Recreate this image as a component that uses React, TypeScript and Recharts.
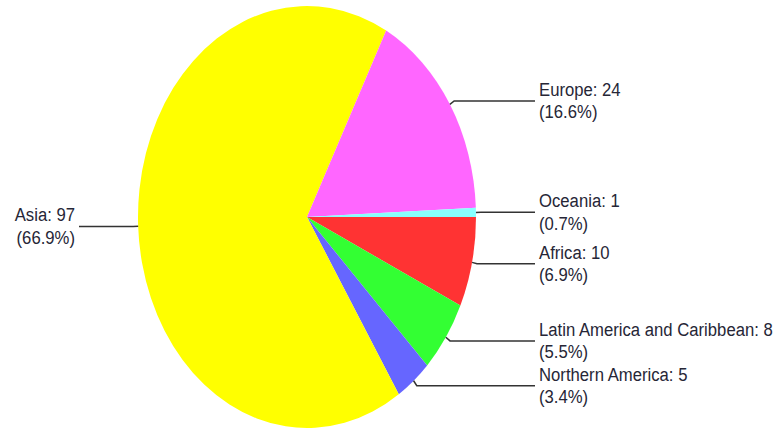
import { Pie, PieChart } from "recharts";

// clockwise from 3 o'clock, as drawn in the reference
const regions = [
  "Africa",
  "Latin America and Caribbean",
  "Northern America",
  "Asia",
  "Europe",
  "Oceania",
];
const counts = [10, 8, 5, 97, 24, 1];
const sliceColors = ["#ff3333", "#33ff33", "#6666ff", "#ffff00", "#ff66ff", "#88ffff"];

const chartData = regions.map((name, i) => ({ name, value: counts[i], fill: sliceColors[i] }));

const WIDTH = 776;
const HEIGHT = 430;
const CX = 307;
const CY = 217;
const RX = 169;
const STRETCH = 211 / 169; // the pie is an upright ellipse
const TEXT_STRETCH = 1.15;
const RAD = Math.PI / 180;

const ellipsePoint = (cx: number, cy: number, rx: number, a: number) => [
  cx + rx * Math.cos(a * RAD),
  cy - rx * STRETCH * Math.sin(a * RAD),
];

const EllipseSector = (props: any) => {
  const { cx, cy, outerRadius, startAngle, endAngle, fill } = props;
  const [x1, y1] = ellipsePoint(cx, cy, outerRadius, startAngle);
  const [x2, y2] = ellipsePoint(cx, cy, outerRadius, endAngle);
  const delta = endAngle - startAngle;
  const large = Math.abs(delta) > 180 ? 1 : 0;
  const sweep = delta < 0 ? 1 : 0;
  const d = `M${cx},${cy} L${x1},${y1} A${outerRadius},${outerRadius * STRETCH} 0 ${large} ${sweep} ${x2},${y2} Z`;
  return <path d={d} fill={fill} stroke="none" />;
};

const renderLabel = (props: any) => {
  const { cx, cy, midAngle, outerRadius, name, value, percent } = props;
  const [ex, ey] = ellipsePoint(cx, cy, outerRadius, midAngle);
  const [bx, by] = ellipsePoint(cx, cy, outerRadius * 1.03, midAngle);
  const right = Math.cos(midAngle * RAD) >= 0;
  const endX = right ? cx + outerRadius + 59 : cx - outerRadius - 59;
  const tx = right ? endX + 4 : endX - 4;
  return (
    <g>
      <path
        d={`M${ex},${ey} L${bx},${by} L${endX},${by}`}
        stroke="#333333"
        strokeWidth={1.5}
        fill="none"
      />
      <text
        transform={`translate(${tx},${by - 5}) scale(1,${TEXT_STRETCH})`}
        textAnchor={right ? "start" : "end"}
        fontFamily="'Liberation Sans', Arial, sans-serif"
        fontSize={16.7}
        fill="#262636"
      >
        <tspan x={0} y={0}>{`${name}: ${value}`}</tspan>
        <tspan x={0} y={22.5 / TEXT_STRETCH}>{`(${(percent * 100).toFixed(1)}%)`}</tspan>
      </text>
    </g>
  );
};

export default function App() {
  return (
    <div style={{ position: "absolute", left: 0, top: 0, width: WIDTH, height: HEIGHT, background: "#fff" }}>
      <PieChart width={WIDTH} height={HEIGHT} margin={{ top: 0, right: 0, bottom: 0, left: 0 }}>
        <Pie
          data={chartData}
          dataKey="value"
          nameKey="name"
          cx={CX}
          cy={CY}
          outerRadius={RX}
          startAngle={0}
          endAngle={-360}
          stroke="none"
          shape={EllipseSector}
          label={renderLabel}
          labelLine={false}
          isAnimationActive={false}
        />
      </PieChart>
    </div>
  );
}
